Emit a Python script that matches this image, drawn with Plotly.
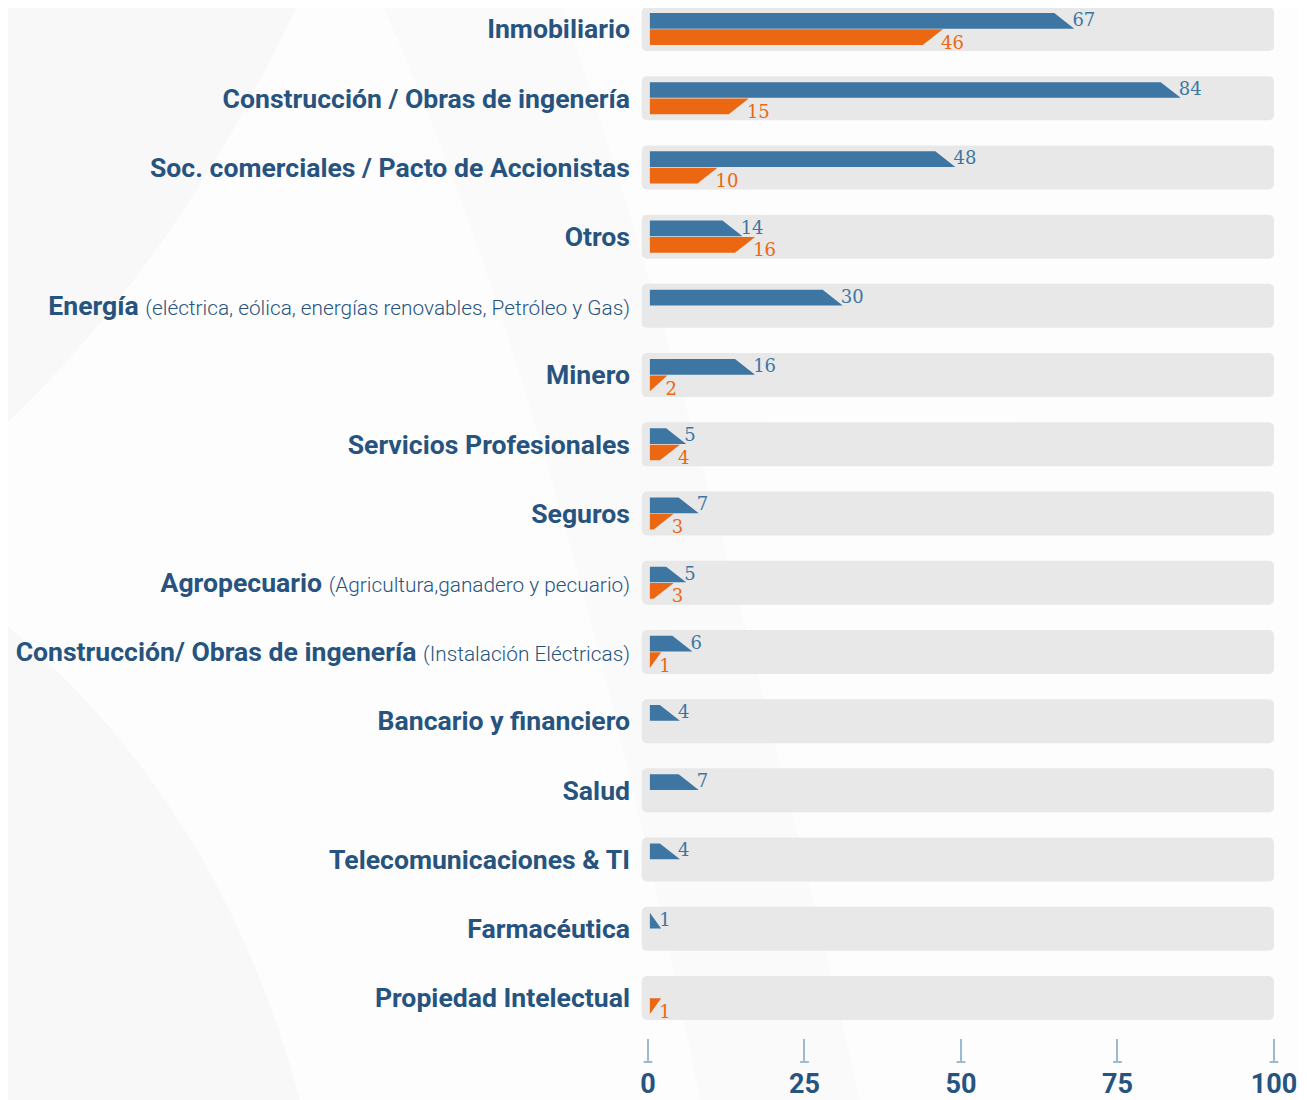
import plotly.graph_objects as go

sectores = [
    "Inmobiliario",
    "Construcción / Obras de ingenería",
    "Soc. comerciales / Pacto de Accionistas",
    "Otros",
    "Energía",
    "Minero",
    "Servicios Profesionales",
    "Seguros",
    "Agropecuario",
    "Construcción/ Obras de ingenería",
    "Bancario y financiero",
    "Salud",
    "Telecomunicaciones & TI",
    "Farmacéutica",
    "Propiedad Intelectual",
]
notas = ["", "", "", "",
         "(eléctrica, eólica, energías renovables, Petróleo y Gas)",
         "", "", "",
         "(Agricultura,ganadero y pecuario)",
         "(Instalación Eléctricas)",
         "", "", "", "", ""]
azul = [67, 84, 48, 14, 30, 16, 5, 7, 5, 6, 4, 7, 4, 1, None]
naranja = [46, 15, 10, 16, None, 2, 4, 3, 3, 1, None, None, None, None, 1]
ticks_x = [0, 25, 50, 75, 100]

AZUL = "#3d76a2"
NARANJA = "#eb6712"
TEXTO = "#27547f"
GRIS = "#e8e8e8"
TICK = "#9dbad3"

x0 = 0.3      # where bars start
extra = 0.8   # small visual extension of the slanted tip
corte = 3.2   # width of the slanted end
alto = 0.232  # bar thickness (row units)

# plot area inside the figure (page has an 8px body margin)
L, T, W, H = 632, 0, 647, 1030


def px(xp):
    return (xp - 8 - L) / W


def py(yp):
    return 1 - (yp - 8 - T) / H


def caja(xa, xb, ya, yb, rx=0.9, ry=0.085):
    return (f"M {xa + rx},{yb} L {xb - rx},{yb} Q {xb},{yb} {xb},{yb - ry} "
            f"L {xb},{ya + ry} Q {xb},{ya} {xb - rx},{ya} L {xa + rx},{ya} "
            f"Q {xa},{ya} {xa},{ya + ry} L {xa},{yb - ry} Q {xa},{yb} {xa + rx},{yb} Z")


shapes = []
# soft background swooshes
shapes.append(dict(type="path", xref="paper", yref="paper", layer="below",
                   path=f"M {px(0)},{py(0)} L {px(300)},{py(0)} Q {px(180)},{py(260)} {px(0)},{py(430)} Z",
                   fillcolor="rgba(0,0,0,0.02)", line=dict(width=0)))
shapes.append(dict(type="path", xref="paper", yref="paper", layer="below",
                   path=f"M {px(0)},{py(620)} Q {px(220)},{py(800)} {px(300)},{py(1100)} L {px(0)},{py(1100)} Z",
                   fillcolor="rgba(0,0,0,0.018)", line=dict(width=0)))
shapes.append(dict(type="path", xref="paper", yref="paper", layer="below",
                   path=f"M {px(380)},{py(0)} Q {px(560)},{py(400)} {px(700)},{py(1100)} L {px(860)},{py(1100)} Q {px(700)},{py(400)} {px(560)},{py(0)} Z",
                   fillcolor="rgba(0,0,0,0.012)", line=dict(width=0)))

# grey row boxes
for i in range(len(sectores)):
    c = -i
    shapes.append(dict(type="path", xref="x", yref="y", layer="below",
                       path=caja(-1.0, 100, c - 0.318, c + 0.318),
                       fillcolor=GRIS, line=dict(width=0)))

# feet of the axis ticks
for t in ticks_x:
    shapes.append(dict(type="line", xref="x", yref="paper", x0=t - 0.7, x1=t + 0.7,
                       y0=py(1062), y1=py(1062), line=dict(color=TICK, width=2)))

fig = go.Figure()


def poligonos(vals, arriba):
    xs, ys = [], []
    for i, v in enumerate(vals):
        if v is None:
            continue
        c = -i
        e = x0 + v + extra
        d = min(corte, v + extra)
        if arriba:
            top, bot = c + alto, c + 0.005
            xs += [x0, e - d, e, x0, x0, None]
        else:
            top, bot = c - 0.005, c - alto
            xs += [x0, e, e - d, x0, x0, None]
        ys += [top, top, bot, bot, top, None]
    return xs, ys


bx, by = poligonos(azul, True)
ox, oy = poligonos(naranja, False)
fig.add_trace(go.Scatter(x=bx, y=by, fill="toself", fillcolor=AZUL, mode="lines",
                         line=dict(width=0, color=AZUL), hoverinfo="skip", showlegend=False))
fig.add_trace(go.Scatter(x=ox, y=oy, fill="toself", fillcolor=NARANJA, mode="lines",
                         line=dict(width=0, color=NARANJA), hoverinfo="skip", showlegend=False))

# value labels
lx, ly, lt = [], [], []
for i, v in enumerate(azul):
    if v is not None:
        lx.append(v + x0 + extra - 0.3); ly.append(-i + 0.11); lt.append(str(v))
fig.add_trace(go.Scatter(x=lx, y=ly, text=lt, mode="text", textposition="middle right",
                         textfont=dict(family="DejaVu Serif", size=18, color=AZUL),
                         cliponaxis=False, hoverinfo="skip", showlegend=False))
lx, ly, lt = [], [], []
for i, v in enumerate(naranja):
    if v is not None:
        lx.append(v + x0 + extra - 0.3); ly.append(-i - 0.22); lt.append(str(v))
fig.add_trace(go.Scatter(x=lx, y=ly, text=lt, mode="text", textposition="middle right",
                         textfont=dict(family="DejaVu Serif", size=18, color=NARANJA),
                         cliponaxis=False, hoverinfo="skip", showlegend=False))

etiquetas = []
for s, n in zip(sectores, notas):
    t = "<b>" + s + "</b>"
    if n:
        t += " <span style='font-size:20.8px;font-weight:300'>" + n + "</span>"
    etiquetas.append(t)

fig.update_layout(
    width=1299, height=1092,
    margin=dict(l=L, r=20, t=T, b=62),
    paper_bgcolor="#fdfdfd",
    plot_bgcolor="rgba(0,0,0,0)",
    font=dict(family="Roboto", color=TEXTO),
    shapes=shapes,
    xaxis=dict(range=[-1.278, 102.08], tickvals=ticks_x, ticktext=["<b>%d</b>" % t for t in ticks_x],
               ticks="outside", ticklen=22, tickwidth=2, tickcolor=TICK,
               tickfont=dict(family="Roboto", size=27, color=TEXTO),
               showgrid=False, zeroline=False, showline=False, automargin=False),
    yaxis=dict(range=[-14.578, 0.3034], tickvals=[-i for i in range(len(sectores))], ticktext=etiquetas,
               tickfont=dict(family="Roboto", size=26.6, color=TEXTO),
               showgrid=False, zeroline=False, showline=False, ticks="", ticklabelstandoff=9,
               automargin=False),
)

fig.write_html("out.html")
